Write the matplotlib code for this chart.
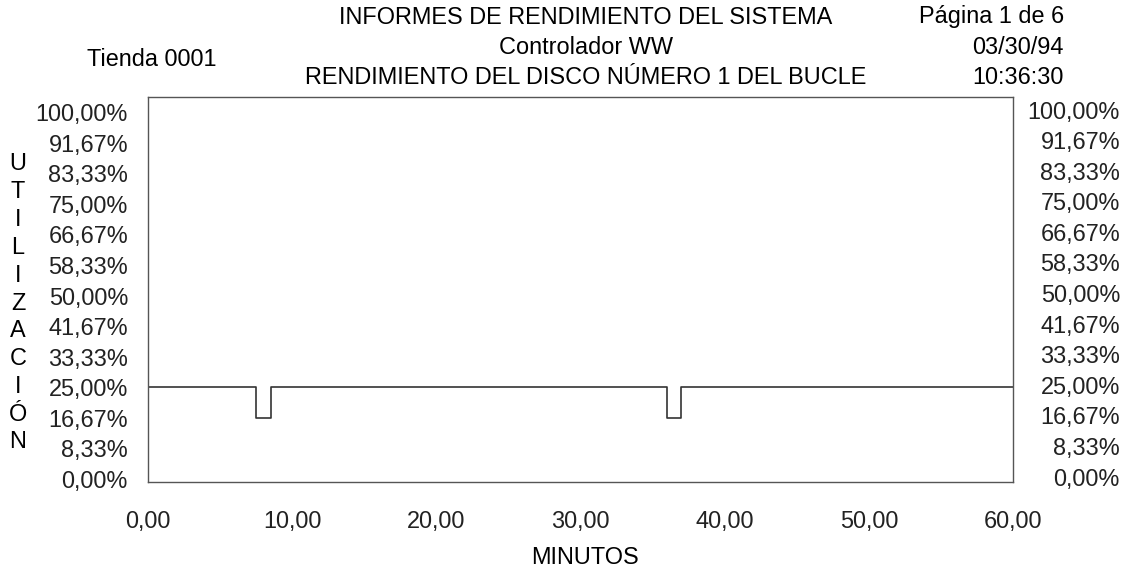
import matplotlib
matplotlib.use("Agg")
import matplotlib.pyplot as plt
from matplotlib.transforms import blended_transform_factory

# data
minutes = [0, 7.5, 8.5, 36.0, 37.0, 60]
utilization = [25.0, 16.67, 25.0, 16.67, 25.0, 25.0]
y_ticks = [0, 8.33, 16.67, 25, 33.33, 41.67, 50, 58.33, 66.67, 75, 83.33, 91.67, 100]
y_labels = ["0,00%", "8,33%", "16,67%", "25,00%", "33,33%", "41,67%", "50,00%",
            "58,33%", "66,67%", "75,00%", "83,33%", "91,67%", "100,00%"]
x_ticks = [0, 10, 20, 30, 40, 50, 60]
x_labels = ["0,00", "10,00", "20,00", "30,00", "40,00", "50,00", "60,00"]

plt.rcParams['font.family'] = ['Liberation Sans', 'DejaVu Sans']
fs = 16.9
W, H = 1127, 571

fig = plt.figure(figsize=(W/100, H/100), dpi=100)
ax = fig.add_axes([148/W, 1-482/H, 865/W, 385/H])
ax.plot(minutes, utilization, drawstyle='steps-post', color='#333333', lw=1.2)
ax.set_xlim(0, 60)
ax.set_ylim(-0.8, 104.1)
for s in ax.spines.values():
    s.set_color('#555555')
    s.set_linewidth(1.0)

ax.set_yticks(y_ticks)
ax.set_yticklabels(y_labels, fontsize=fs, color='#222222')
ax.tick_params(axis='y', length=0, pad=14.4)
# right-hand labels are right-aligned near the figure edge
tr = blended_transform_factory(fig.transFigure, ax.transData)
for v, lab in zip(y_ticks, y_labels):
    ax.text(1120/W, v, lab, transform=tr, ha='right', va='center',
            fontsize=fs, color='#222222', clip_on=False)

ax.set_xticks(x_ticks)
ax.set_xticklabels(x_labels, fontsize=fs, color='#222222')
ax.tick_params(axis='x', length=0, pad=20)

# header
fig.text(586/W, 1-18/H, "INFORMES DE RENDIMIENTO DEL SISTEMA", ha='center', va='center', fontsize=fs)
fig.text(586/W, 1-48/H, "Controlador WW", ha='center', va='center', fontsize=fs)
fig.text(586/W, 1-78/H, "RENDIMIENTO DEL DISCO NÚMERO 1 DEL BUCLE", ha='center', va='center', fontsize=fs)
fig.text(152/W, 1-60/H, "Tienda 0001", ha='center', va='center', fontsize=fs)
fig.text(1064/W, 1-17/H, "Página 1 de 6", ha='right', va='center', fontsize=fs)
fig.text(1064/W, 1-48/H, "03/30/94", ha='right', va='center', fontsize=fs)
fig.text(1064/W, 1-78/H, "10:36:30", ha='right', va='center', fontsize=fs)

# vertical y-axis title, one letter per line
letters = list("UTILIZACIÓN")
for i, ch in enumerate(letters):
    fig.text(18/W, 1-(164 + i*27.8)/H, ch, ha='center', va='center', fontsize=fs)

fig.text(585/W, 1-558/H, "MINUTOS", ha='center', va='center', fontsize=fs)

fig.savefig("out.png", dpi=100)
